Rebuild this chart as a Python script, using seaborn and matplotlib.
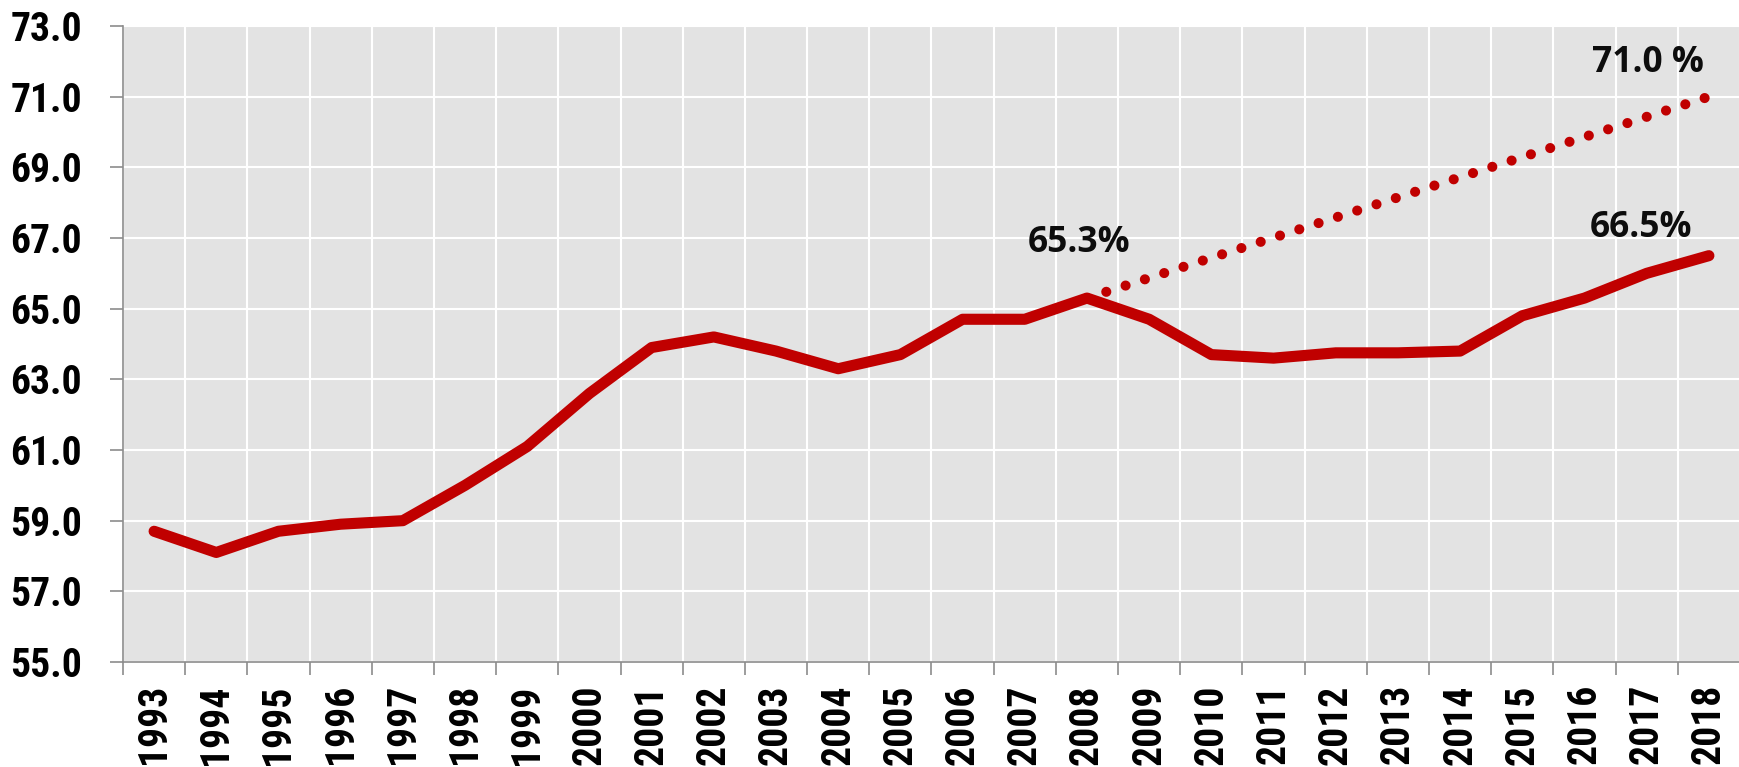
import numpy as np
import pandas as pd
import matplotlib
matplotlib.use("Agg")
import matplotlib.pyplot as plt
from matplotlib import font_manager
import seaborn as sns

# data
years = list(range(1993, 2019))
rate = [58.7, 58.1, 58.7, 58.9, 59.0, 60.0, 61.1, 62.6, 63.9, 64.2,
        63.8, 63.3, 63.7, 64.7, 64.7, 65.3, 64.7, 63.7, 63.6, 63.75,
        63.75, 63.8, 64.8, 65.3, 66.0, 66.5]
target_years = [2008, 2018]
target_rate = [65.3, 71.0]

RED = "#C00000"
LABEL_FONT = ["Open Sans", "DejaVu Sans"]

# a narrow bold face for the axis labels, if one is around
names = {f.name for f in font_manager.fontManager.ttflist}
narrow = [n for n in ["Liberation Sans Narrow", "Arial Narrow", "Roboto Condensed",
                      "DejaVu Sans Condensed", "Open Sans Condensed"] if n in names]
TICK_FONT = narrow + ["DejaVu Sans"]

df = pd.DataFrame({"pos": np.arange(len(years)), "rate": rate})
tgt = pd.DataFrame({"pos": [years.index(y) for y in target_years], "rate": target_rate})

sns.set_theme(style="darkgrid")
plt.rcParams["font.family"] = TICK_FONT

fig = plt.figure(figsize=(17.4, 7.67), dpi=100)
ax = fig.add_axes([123 / 1740, 1 - 662 / 767, 1 - 123 / 1740, (662 - 26) / 767])
ax.set_facecolor("#e3e3e3")

sns.lineplot(data=df, x="pos", y="rate", ax=ax, color=RED, lw=8,
             solid_capstyle="round", solid_joinstyle="round")
sns.lineplot(data=tgt, x="pos", y="rate", ax=ax, color=RED, lw=7.3,
             linestyle=(0, (0.001, 2.0)), dash_capstyle="round")

ax.set_xlim(-0.5, 25.25)
ax.set_ylim(55, 73)
ax.set_yticks(np.arange(55, 73.1, 2))
ax.set_yticklabels([f"{v:.1f}" for v in np.arange(55, 73.1, 2)])
ax.set_xticks(df["pos"])
ax.set_xticklabels([str(y) for y in years], rotation=90)
ax.set_xticks(np.arange(-0.5, 26, 1), minor=True)
ax.set_xlabel("")
ax.set_ylabel("")

ax.grid(False)
ax.grid(axis="y", which="major", color="white", lw=1.5)
ax.grid(axis="x", which="minor", color="white", lw=1.5)

for lab in ax.get_yticklabels() + ax.get_xticklabels():
    lab.set_fontweight("bold")
    lab.set_fontstretch("condensed")
    lab.set_fontsize(28.5 if narrow else 24)
    lab.set_color("black")

ax.tick_params(axis="y", which="major", length=9.5, width=1.2, color="#8c8c8c",
               pad=20, left=True)
ax.tick_params(axis="x", which="major", length=0, pad=16)
ax.tick_params(axis="x", which="minor", length=9, width=1.2, color="#8c8c8c",
               bottom=True)

for s in ["top", "right"]:
    ax.spines[s].set_visible(False)
for s in ["left", "bottom"]:
    ax.spines[s].set_visible(True)
    ax.spines[s].set_color("#8c8c8c")
    ax.spines[s].set_linewidth(1.2)

for x, y, txt in [(14.87, 66.86, "65.3%"), (24.02, 71.95, "71.0 %"), (23.91, 67.28, "66.5%")]:
    ax.text(x, y, txt, ha="center", va="center", fontsize=25.5,
            fontweight="bold", family=LABEL_FONT, color="#0d0d0d")

fig.savefig("out.png", dpi=100)
